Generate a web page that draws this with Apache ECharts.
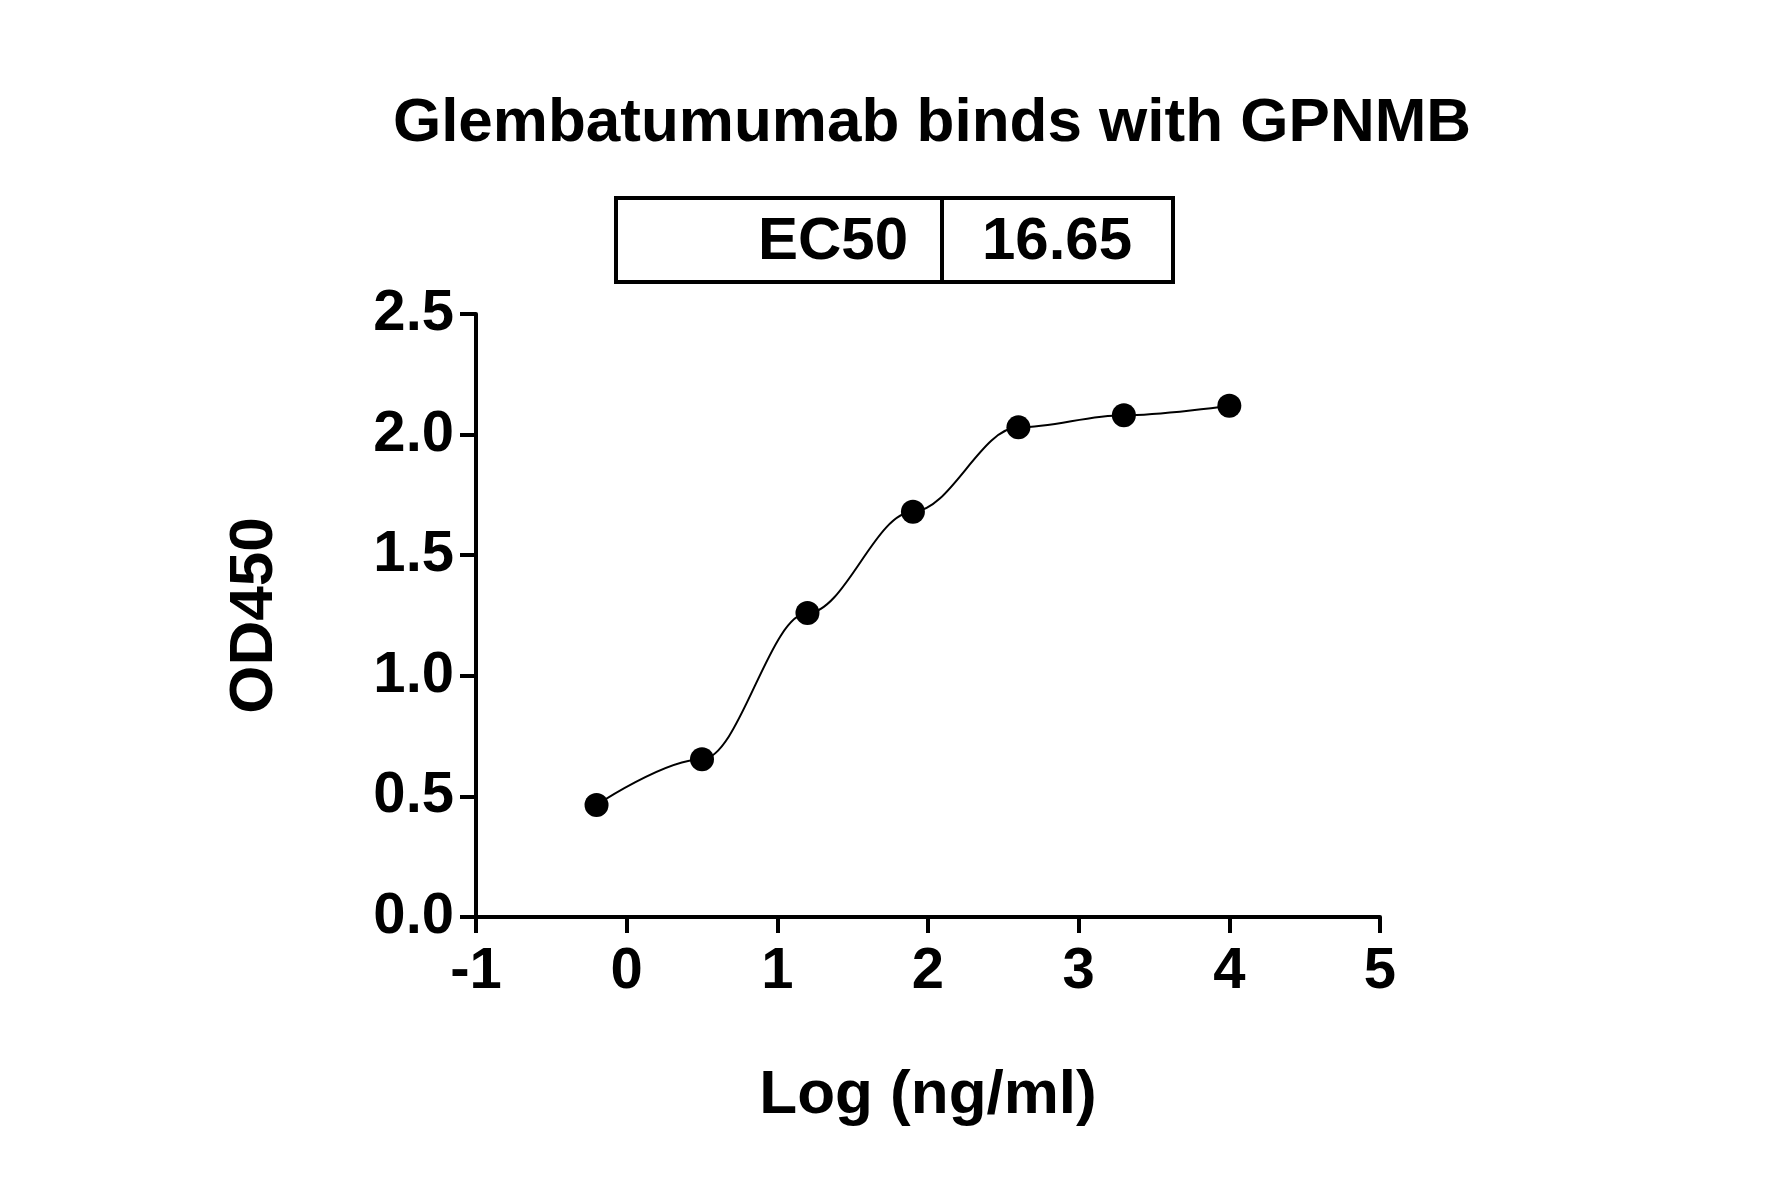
<!DOCTYPE html>
<html>
<head>
<meta charset="utf-8">
<script src="https://cdn.jsdelivr.net/npm/echarts@6/dist/echarts.min.js"></script>
<style>html,body{margin:0;padding:0;background:#fff}#chart_content{width:1781px;height:1197px}</style>
</head>
<body>
<div id="chart_content"></div>
<script>
// data
let logConc = [-0.2, 0.5, 1.2, 1.9, 2.6, 3.3, 4.0];
let od450 = [0.464, 0.654, 1.26, 1.68, 2.03, 2.08, 2.12];
let ec50Label = 'EC50';
let ec50Value = '16.65';

let points = logConc.map((x, i) => [x, od450[i]]);
let font = 'Arial, "Liberation Sans", sans-serif';

let chart = echarts.init(document.getElementById('chart_content'));
chart.setOption({
    animation: false,
    title: {
        text: 'Glembatumumab binds with GPNMB',
        left: 927,
        top: 88,
        textAlign: 'center',
        textStyle: { fontFamily: font, fontWeight: 'bold', fontSize: 62, color: '#000' }
    },
    grid: { left: 476, right: 401, top: 314, bottom: 280 },
    xAxis: {
        type: 'value', min: -1, max: 5, interval: 1,
        name: 'Log (ng/ml)', nameLocation: 'middle', nameGap: 148,
        nameTextStyle: { fontFamily: font, fontWeight: 'bold', fontSize: 62, color: '#000' },
        axisLine: { onZero: false, lineStyle: { color: '#000', width: 4 } },
        axisTick: { length: 16, lineStyle: { color: '#000', width: 4 } },
        axisLabel: { fontFamily: font, fontWeight: 'bold', fontSize: 58, color: '#000', margin: 26 },
        splitLine: { show: false }
    },
    yAxis: {
        type: 'value', min: 0, max: 2.5, interval: 0.5,
        name: 'OD450', nameLocation: 'middle', nameGap: 190,
        nameTextStyle: { fontFamily: font, fontWeight: 'bold', fontSize: 62, color: '#000' },
        axisLine: { show: true, onZero: false, lineStyle: { color: '#000', width: 4 } },
        axisTick: { show: true, length: 16, lineStyle: { color: '#000', width: 4 } },
        axisLabel: { fontFamily: font, fontWeight: 'bold', fontSize: 58, color: '#000', margin: 22,
            formatter: v => v.toFixed(1) },
        splitLine: { show: false }
    },
    graphic: [
        { type: 'rect', shape: { x: 616, y: 198, width: 557, height: 84 },
          style: { fill: '#fff', stroke: '#000', lineWidth: 4 } },
        { type: 'line', shape: { x1: 942, y1: 198, x2: 942, y2: 282 },
          style: { stroke: '#000', lineWidth: 4 } },
        { type: 'text', x: 908, y: 242,
          style: { text: ec50Label, font: 'bold 60px ' + font, fill: '#000', textAlign: 'right', textVerticalAlign: 'middle' } },
        { type: 'text', x: 1057, y: 242,
          style: { text: ec50Value, font: 'bold 60px ' + font, fill: '#000', textAlign: 'center', textVerticalAlign: 'middle' } }
    ],
    series: [
        {
            type: 'line', data: points, smooth: 0.35, smoothMonotone: 'x', symbol: 'none',
            lineStyle: { color: '#000', width: 2 }
        },
        {
            type: 'scatter', data: points, symbolSize: 24,
            itemStyle: { color: '#000', opacity: 1 }
        }
    ]
});
</script>
</body>
</html>
